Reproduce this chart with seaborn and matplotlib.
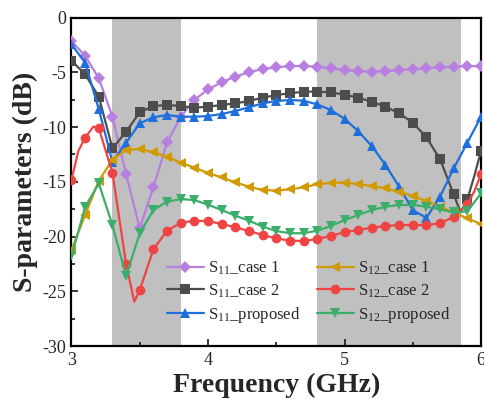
import numpy as np
import pandas as pd
import matplotlib
matplotlib.use("Agg")
import matplotlib.pyplot as plt
from matplotlib.ticker import MultipleLocator
import seaborn as sns

# ---- data (frequency in GHz, S-parameters in dB) ----
freq_s11_case1 = [3.0, 3.1, 3.2, 3.3, 3.4, 3.5, 3.6, 3.7, 3.8, 3.9, 4.0, 4.1, 4.2, 4.3, 4.4, 4.5,
                  4.6, 4.7, 4.8, 4.9, 5.0, 5.1, 5.2, 5.3, 5.4, 5.5, 5.6, 5.7, 5.8, 5.9, 6.0]
s11_case1 = [-2.15, -3.5, -5.55, -9.06, -14.3, -19.25, -15.5, -11.4, -9.06, -7.53, -6.56, -5.92,
             -5.4, -5.0, -4.7, -4.55, -4.43, -4.43, -4.49, -4.64, -4.8, -4.89, -4.95, -4.89, -4.8,
             -4.73, -4.64, -4.55, -4.49, -4.43, -4.45]

freq_s11_case2 = [3.0, 3.1, 3.2, 3.3, 3.4, 3.5, 3.6, 3.7, 3.8, 3.9, 4.0, 4.1, 4.2, 4.3, 4.4, 4.5,
                  4.6, 4.7, 4.8, 4.9, 5.0, 5.1, 5.2, 5.3, 5.4, 5.5, 5.6, 5.7, 5.8, 5.85, 5.9, 5.95, 6.0]
s11_case2 = [-3.94, -5.19, -7.23, -11.95, -10.43, -8.66, -8.08, -7.99, -8.08, -8.24, -8.14, -7.99,
             -7.84, -7.63, -7.32, -7.08, -6.92, -6.77, -6.77, -6.83, -7.05, -7.32, -7.69, -8.14,
             -8.75, -9.6, -10.94, -12.95, -16.15, -17.8, -16.6, -14.5, -12.2]

freq_s11_prop = [3.0, 3.1, 3.2, 3.3, 3.4, 3.5, 3.6, 3.7, 3.8, 3.9, 4.0, 4.1, 4.2, 4.3, 4.4, 4.5,
                 4.6, 4.7, 4.8, 4.9, 5.0, 5.1, 5.2, 5.3, 5.4, 5.5, 5.6, 5.7, 5.8, 5.9, 6.0]
s11_prop = [-2.45, -4.13, -8.38, -13.2, -11.43, -9.66, -9.11, -8.9, -9.06, -9.06, -9.0, -8.81,
            -8.54, -8.2, -7.84, -7.63, -7.53, -7.6, -7.93, -8.45, -9.25, -10.37, -11.74, -13.47,
            -15.45, -17.58, -18.3, -16.36, -13.77, -11.43, -9.06]

freq_s12_case1 = [3.0, 3.1, 3.2, 3.3, 3.4, 3.5, 3.6, 3.7, 3.8, 3.9, 4.0, 4.1, 4.2, 4.3, 4.4, 4.5,
                  4.6, 4.7, 4.8, 4.9, 5.0, 5.1, 5.2, 5.3, 5.4, 5.5, 5.6, 5.7, 5.8, 5.9, 6.0]
s12_case1 = [-21.23, -18.04, -14.9, -13.0, -12.1, -12.0, -12.3, -12.7, -13.26, -13.7, -14.2, -14.6,
             -15.05, -15.45, -15.75, -15.8, -15.7, -15.5, -15.23, -15.1, -15.07, -15.2, -15.4,
             -15.6, -15.9, -16.3, -16.76, -17.28, -17.8, -18.34, -18.86]

freq_s12_case2 = [3.0, 3.05, 3.1, 3.16, 3.2, 3.3, 3.4, 3.46, 3.5, 3.6, 3.7, 3.8, 3.9, 4.0, 4.1, 4.2,
                  4.3, 4.4, 4.5, 4.6, 4.7, 4.8, 4.9, 5.0, 5.1, 5.2, 5.3, 5.4, 5.5, 5.6, 5.7, 5.8,
                  5.9, 5.95, 6.0]
s12_case2 = [-14.8, -12.2, -10.97, -9.97, -10.1, -14.17, -22.5, -25.95, -24.9, -21.17, -19.47,
             -18.74, -18.56, -18.58, -18.86, -19.16, -19.5, -19.86, -20.17, -20.38, -20.41, -20.23,
             -19.95, -19.6, -19.4, -19.2, -19.04, -18.95, -18.95, -18.95, -18.8, -18.2, -17.05,
             -15.9, -14.3]

freq_s12_prop = [3.0, 3.1, 3.2, 3.3, 3.4, 3.5, 3.6, 3.7, 3.8, 3.9, 4.0, 4.1, 4.2, 4.3, 4.4, 4.5,
                 4.6, 4.7, 4.8, 4.9, 5.0, 5.1, 5.2, 5.3, 5.4, 5.5, 5.6, 5.7, 5.8, 5.9, 6.0]
s12_prop = [-21.8, -17.3, -15.15, -18.95, -23.6, -19.7, -17.58, -16.82, -16.58, -16.67, -17.1,
            -17.58, -18.1, -18.55, -19.1, -19.5, -19.7, -19.7, -19.47, -19.04, -18.5, -18.04,
            -17.58, -17.28, -17.12, -17.12, -17.28, -17.52, -17.8, -17.7, -16.06]

labels = [r"S$_{11}$_case 1", r"S$_{11}$_case 2", r"S$_{11}$_proposed",
          r"S$_{12}$_case 1", r"S$_{12}$_case 2", r"S$_{12}$_proposed"]

# operating bands highlighted in grey
bands = [(3.3, 3.8), (4.8, 5.85)]

# ---- styling ----
sns.set_style("ticks")
plt.rcParams["font.family"] = ["Liberation Serif", "DejaVu Serif"]
plt.rcParams["mathtext.fontset"] = "custom"
plt.rcParams["mathtext.rm"] = "Liberation Serif"
plt.rcParams["mathtext.it"] = "Liberation Serif:italic"
plt.rcParams["mathtext.bf"] = "Liberation Serif:bold"
plt.rcParams["axes.unicode_minus"] = False

series = [
    (freq_s11_case1, s11_case1, "#B87FE0", "D", 6.0),
    (freq_s11_case2, s11_case2, "#4D4D4D", "s", 6.5),
    (freq_s11_prop, s11_prop, "#1E6FDB", "^", 7.0),
    (freq_s12_case1, s12_case1, "#D09A00", "<", 7.0),
    (freq_s12_case2, s12_case2, "#EE4444", "o", 7.0),
    (freq_s12_prop, s12_prop, "#3AAE6A", "v", 7.0),
]

fig = plt.figure(figsize=(4.85, 4.13), dpi=100)
ax = fig.add_axes([0.1474, 0.1622, 0.8444, 0.7954])

for lo, hi in bands:
    ax.axvspan(lo, hi, color="#C0C0C0", lw=0, zorder=0)

for (f, v, color, marker, ms), label in zip(series, labels):
    f = np.asarray(f)
    on_grid = [i for i, x in enumerate(f) if abs(round(x * 10) - x * 10) < 1e-6]
    df = pd.DataFrame({"Frequency": f, "S": v})
    sns.lineplot(data=df, x="Frequency", y="S", ax=ax, color=color, marker=marker,
                 markersize=ms, markevery=on_grid, markeredgecolor=color,
                 markeredgewidth=0, linewidth=1.6, label=label, errorbar=None, zorder=3)

ax.set_xlim(3, 6)
ax.set_ylim(-30, 0)
ax.xaxis.set_major_locator(MultipleLocator(1))
ax.xaxis.set_minor_locator(MultipleLocator(0.5))
ax.yaxis.set_major_locator(MultipleLocator(5))
ax.yaxis.set_minor_locator(MultipleLocator(2.5))
ax.tick_params(which="both", direction="in", top=False, right=False, labelsize=13, width=1.3)
ax.tick_params(which="major", length=5, pad=4)
ax.tick_params(which="minor", length=3)
for sp in ax.spines.values():
    sp.set_linewidth(1.6)
    sp.set_color("black")

ax.set_xlabel("Frequency (GHz)", fontsize=20, fontweight="bold", labelpad=3)
ax.set_ylabel("S-parameters (dB)", fontsize=20, fontweight="bold", labelpad=3)

ax.legend(loc="lower left", bbox_to_anchor=(0.233, 0.065), ncol=2, frameon=False,
          fontsize=12, handlelength=2.2, handletextpad=0.25, columnspacing=1.0,
          labelspacing=0.3, borderpad=0, borderaxespad=0)

fig.savefig("out.png", dpi=100)
